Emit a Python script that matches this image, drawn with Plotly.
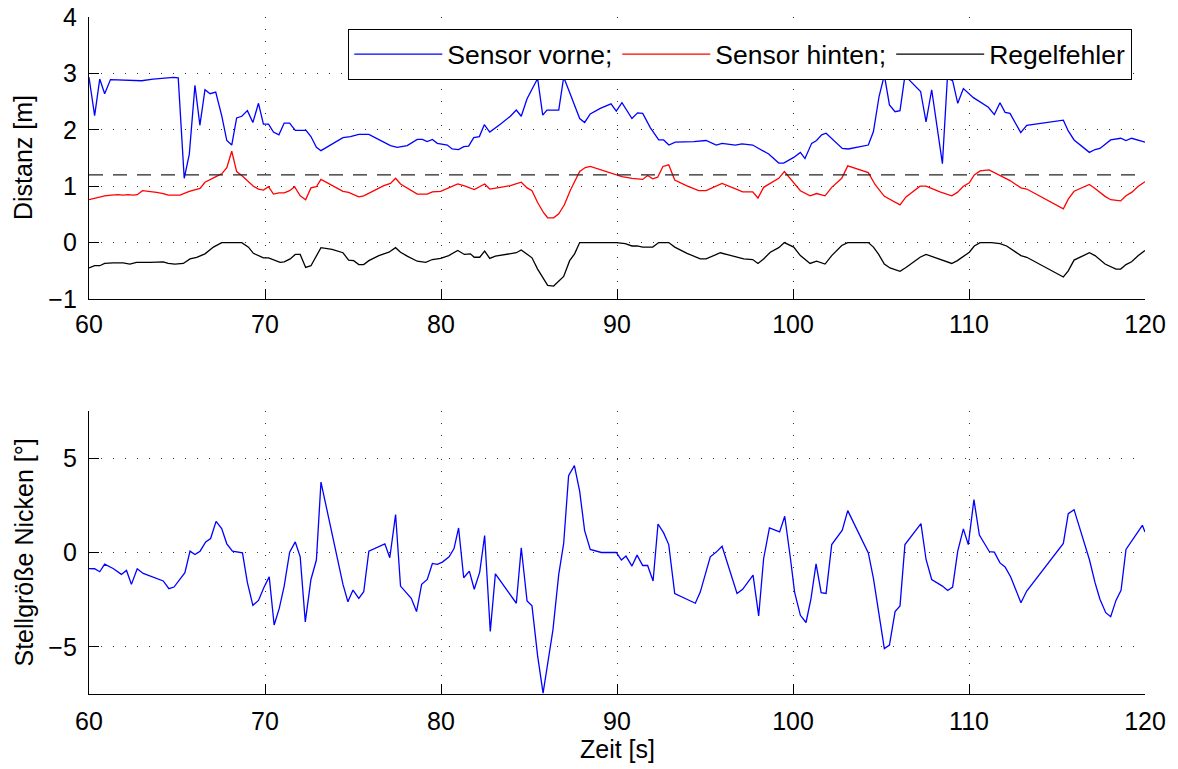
import plotly.graph_objects as go

# Distanzmessung: Sensor vorne
t_vorne = [60, 60.32, 60.61, 60.89, 61.22, 61.94, 62.5, 62.98, 63.65, 64.2, 64.8, 65.07, 65.41, 65.7, 66.02, 66.3,
           66.59, 66.88, 67.2, 67.54, 67.83, 68.11, 68.39, 68.68, 69.0, 69.31, 69.63, 69.91, 70.2, 70.48, 70.79,
           71.09, 71.4, 71.72, 72.0, 72.33, 72.61, 72.92, 73.18, 73.81, 74.43, 74.85, 75.33, 75.9, 76.56, 77.13,
           77.51, 78.08, 78.65, 78.94, 79.22, 79.51, 79.79, 80.08, 80.36, 80.63, 81.0, 81.29, 81.57, 81.86, 82.18,
           82.46, 82.77, 83.37, 83.94, 84.28, 84.56, 84.89, 85.49, 85.78, 86.02, 86.69, 86.97, 87.25, 87.59, 87.88,
           88.16, 88.48, 89.05, 89.66, 89.96, 90.28, 90.85, 91.17, 91.46, 91.89, 92.37, 92.65, 92.95, 93.31, 94.36,
           95.06, 95.64, 95.97, 96.72, 97.1, 97.71, 98.62, 99.19, 99.47, 100.04, 100.42, 100.68, 101.06, 101.34,
           101.63, 101.88, 102.29, 102.8, 103.14, 104.28, 104.57, 104.89, 105.19, 105.48, 105.8, 106.08, 106.36,
           107.25, 107.56, 107.88, 108.49, 108.77, 109.07, 109.36, 109.68, 110.25, 111.1, 111.44, 111.76, 112.05,
           112.33, 112.94, 113.28, 115.36, 115.64, 115.97, 116.84, 117.16, 117.44, 118.05, 118.62, 118.92, 119.24,
           120.0]
d_vorne = [2.93, 2.25, 2.90, 2.64, 2.89, 2.88, 2.88, 2.87, 2.90, 2.91, 2.93, 2.92, 1.14, 1.57, 2.79, 2.08,
           2.71, 2.64, 2.67, 2.25, 1.81, 1.73, 2.21, 2.24, 2.34, 2.13, 2.47, 2.10, 2.10, 1.96, 1.91,
           2.12, 2.12, 1.99, 1.99, 1.99, 1.88, 1.69, 1.63, 1.75, 1.86, 1.88, 1.92, 1.92, 1.81, 1.72,
           1.69, 1.72, 1.83, 1.83, 1.79, 1.83, 1.76, 1.75, 1.73, 1.66, 1.65, 1.70, 1.71, 1.86, 1.88,
           2.09, 1.96, 2.10, 2.24, 2.35, 2.24, 2.55, 2.91, 2.26, 2.35, 2.35, 2.93, 2.71, 2.45, 2.20,
           2.13, 2.28, 2.38, 2.46, 2.33, 2.48, 2.20, 2.30, 2.29, 2.04, 1.82, 1.82, 1.73, 1.78, 1.79,
           1.81, 1.73, 1.76, 1.73, 1.75, 1.73, 1.57, 1.41, 1.41, 1.51, 1.60, 1.49, 1.76, 1.81,
           1.91, 1.94, 1.82, 1.67, 1.66, 1.73, 1.97, 2.59, 2.97, 2.44, 2.32, 2.34, 2.96,
           2.68, 2.14, 2.71, 1.40, 2.91, 2.87, 2.47, 2.73, 2.57, 2.40, 2.27, 2.48, 2.31,
           2.29, 1.95, 2.08, 2.17, 1.98, 1.82, 1.60, 1.65, 1.67, 1.82, 1.85, 1.81, 1.85,
           1.78]

# Distanzmessung: Sensor hinten
t_hinten = [60, 60.32, 60.61, 60.89, 61.27, 61.65, 61.94, 62.22, 62.5, 62.74, 63.04, 63.46, 63.84, 64.22, 64.5,
            64.88, 65.17, 65.7, 66.02, 66.31, 66.59, 66.88, 67.16, 67.54, 67.83, 68.11, 68.39, 68.68, 69.0, 69.34,
            69.63, 69.91, 70.2, 70.48, 70.79, 71.09, 71.4, 71.68, 72.0, 72.31, 72.61, 72.92, 73.18, 73.81, 74.43,
            74.75, 75.33, 75.61, 76.18, 76.75, 77.13, 77.42, 77.7, 78.18, 78.65, 79.22, 79.51, 79.98, 80.44, 80.95,
            81.38, 81.89, 82.48, 82.77, 83.37, 83.94, 84.56, 84.89, 85.17, 85.49, 85.83, 86.06, 86.4, 86.69, 87.01,
            87.35, 87.88, 88.2, 88.48, 89.05, 89.62, 90.28, 90.85, 91.46, 91.74, 92.03, 92.31, 92.61, 92.94, 93.28,
            93.94, 94.64, 95.06, 95.59, 95.97, 96.53, 97.14, 97.71, 98.01, 98.33, 99.19, 99.51, 100.42, 100.97,
            101.34, 101.82, 102.2, 102.77, 103.11, 104.28, 104.66, 105.19, 106.08, 106.42, 107.22, 107.56, 108.35,
            109.02, 109.34, 109.68, 110.02, 110.3, 110.63, 111.14, 111.76, 112.33, 112.95, 113.28, 115.36, 115.64,
            115.97, 116.84, 117.16, 117.73, 118.05, 118.4, 118.62, 118.92, 119.24, 119.62, 120]
d_hinten = [0.76, 0.79, 0.81, 0.83, 0.84, 0.85, 0.84, 0.85, 0.84, 0.85, 0.92, 0.91, 0.89, 0.87, 0.84,
            0.84, 0.84, 0.91, 0.93, 0.96, 1.07, 1.11, 1.16, 1.22, 1.33, 1.62, 1.26, 1.19, 1.10, 1.00,
            0.95, 0.93, 0.99, 0.86, 0.88, 0.88, 0.92, 0.99, 0.83, 0.76, 0.97, 0.99, 1.12, 1.01, 0.91,
            0.89, 0.81, 0.83, 0.92, 1.01, 1.05, 1.14, 1.04, 0.95, 0.86, 0.86, 0.90, 0.91, 0.97, 1.04,
            1.00, 0.94, 1.04, 0.95, 0.98, 1.01, 1.07, 0.97, 0.92, 0.71, 0.53, 0.44, 0.44, 0.51, 0.67,
            0.93, 1.26, 1.33, 1.35, 1.29, 1.24, 1.17, 1.14, 1.12, 1.19, 1.13, 1.16, 1.35, 1.38, 1.11,
            1.01, 0.92, 0.92, 0.99, 1.05, 0.98, 0.90, 0.90, 0.79, 0.98, 1.14, 1.26, 0.92, 0.83,
            0.87, 0.83, 0.98, 1.14, 1.36, 1.24, 1.03, 0.82, 0.67, 0.81, 1.00, 1.00, 0.90,
            0.83, 0.89, 1.00, 1.06, 1.20, 1.27, 1.29, 1.19, 1.10, 0.97, 0.95, 0.60, 0.77,
            0.91, 1.03, 0.96, 0.82, 0.76, 0.74, 0.74, 0.83, 0.89, 1.00, 1.08]

# Regelfehler
t_fehler = [60, 60.32, 60.61, 60.89, 61.37, 61.94, 62.32, 62.7, 63.46, 64.22, 64.5, 64.88, 65.36, 65.74, 66.12,
            66.59, 67.07, 67.54, 68.68, 69.06, 69.34, 69.91, 70.2, 70.48, 70.86, 71.09, 71.43, 71.72, 72.0, 72.31,
            72.61, 73.18, 73.81, 74.43, 74.75, 75.04, 75.33, 75.61, 75.9, 76.47, 77.04, 77.42, 77.7, 78.08, 78.65,
            79.13, 79.51, 79.98, 80.44, 80.95, 81.33, 81.67, 81.89, 82.2, 82.48, 82.77, 83.09, 84.28, 84.56, 85.17,
            85.49, 86.06, 86.4, 86.97, 87.31, 87.59, 87.88, 89.96, 90.47, 90.85, 91.14, 91.46, 92.03, 92.37, 92.94,
            93.28, 93.98, 94.73, 95.06, 95.87, 96.53, 97.2, 97.71, 98.01, 98.33, 98.71, 99.19, 99.51, 100.04,
            100.42, 100.97, 101.34, 101.82, 102.2, 102.77, 103.11, 104.28, 104.57, 104.85, 105.19, 105.51, 106.08,
            106.42, 107.22, 107.56, 108.35, 109.02, 109.34, 109.68, 110.02, 110.3, 110.63, 111.29, 111.76, 112.14,
            112.95, 113.28, 115.36, 115.64, 115.97, 116.84, 117.16, 117.73, 118.05, 118.35, 118.62, 118.92, 119.24,
            119.62, 120]
d_fehler = [-0.45, -0.41, -0.41, -0.37, -0.36, -0.36, -0.38, -0.35, -0.35, -0.34, -0.37, -0.38, -0.37, -0.29, -0.26,
            -0.20, -0.08, 0, 0, -0.08, -0.19, -0.27, -0.27, -0.30, -0.35, -0.34, -0.29, -0.21, -0.21, -0.44,
            -0.41, -0.09, -0.12, -0.18, -0.31, -0.32, -0.39, -0.39, -0.32, -0.23, -0.17, -0.09, -0.17, -0.24, -0.33,
            -0.35, -0.30, -0.28, -0.23, -0.14, -0.21, -0.20, -0.26, -0.26, -0.15, -0.28, -0.24, -0.18, -0.13, -0.27,
            -0.47, -0.76, -0.77, -0.60, -0.32, -0.20, 0, 0, -0.02, -0.06, -0.06, -0.08, -0.08, 0, 0,
            -0.08, -0.19, -0.29, -0.29, -0.18, -0.24, -0.29, -0.30, -0.37, -0.29, -0.17, -0.09, 0, -0.08,
            -0.23, -0.37, -0.33, -0.38, -0.23, -0.05, 0, 0, -0.08, -0.20, -0.38, -0.45, -0.51,
            -0.44, -0.26, -0.21, -0.30, -0.37, -0.32, -0.25, -0.17, -0.06, 0, 0, -0.02, -0.06,
            -0.23, -0.26, -0.61, -0.50, -0.31, -0.18, -0.23, -0.38, -0.42, -0.47, -0.47, -0.39, -0.34,
            -0.23, -0.14]

# Sollabstand
t_soll = [60, 120]
d_soll = [1.2, 1.2]

# Stellgröße Nicken
t_nicken = [60, 60.32, 60.61, 60.89, 61.37, 61.84, 62.13, 62.41, 62.74, 63.08, 64.22, 64.54, 64.83, 65.17, 65.45,
            65.74, 66.02, 66.31, 66.63, 66.91, 67.22, 67.54, 67.83, 68.15, 68.72, 69.0, 69.31, 69.63, 69.95, 70.24,
            70.52, 70.81, 71.09, 71.4, 71.72, 72.0, 72.29, 72.61, 72.92, 73.18, 74.43, 74.71, 75.0, 75.33, 75.61,
            75.9, 76.81, 77.09, 77.42, 77.7, 78.31, 78.61, 78.9, 79.22, 79.51, 79.79, 80.08, 80.46, 80.74, 81.0,
            81.29, 81.61, 81.89, 82.2, 82.48, 82.8, 83.09, 84.28, 84.56, 84.89, 85.17, 85.49, 85.8, 86.36, 86.69,
            86.97, 87.25, 87.58, 87.88, 88.16, 88.48, 89.11, 89.96, 90.25, 90.51, 90.85, 91.14, 91.46, 91.74, 92.05,
            92.33, 92.65, 92.94, 93.28, 94.45, 94.73, 95.3, 95.64, 95.97, 96.82, 97.14, 97.73, 98.05, 98.33, 98.66,
            99.24, 99.53, 99.85, 100.09, 100.42, 100.74, 101.02, 101.31, 101.6, 101.88, 102.2, 102.8, 103.11,
            104.28, 104.57, 104.89, 105.19, 105.48, 105.8, 106.08, 106.36, 107.27, 107.56, 107.88, 108.49, 108.79,
            109.07, 109.36, 109.68, 109.96, 110.28, 110.59, 111.16, 111.44, 111.76, 112.05, 112.37, 112.95, 113.28,
            115.36, 115.64, 115.97, 116.84, 117.16, 117.44, 117.77, 118.05, 118.35, 118.64, 118.92, 119.85, 120]
w_nicken = [-0.85, -0.86, -1.02, -0.62, -0.85, -1.16, -0.95, -1.69, -0.86, -1.11, -1.51, -1.92, -1.83, -1.43, -1.07,
            0.07, -0.11, 0.07, 0.56, 0.74, 1.65, 1.27, 0.46, 0.07, -0.02, -1.60, -2.80, -2.54, -1.83, -1.29,
            -3.84, -2.96, -1.78, 0.02, 0.56, -0.23, -3.68, -1.43, -0.40, 3.73, -1.69, -2.61, -1.99, -2.43, -2.08,
            0.07, 0.46, -0.28, 2.01, -1.78, -2.43, -3.13, -1.69, -1.43, -0.58, -0.63, -0.51, -0.23, 0.21, 1.30,
            -1.34, -0.99, -1.95, -1.04, 0.90, -4.19, -1.13, -2.69, 0.25, -2.57, -2.83, -5.48, -7.45, -4.10, -1.16,
            0.48, 4.07, 4.61, 3.24, 1.16, 0.16, 0, 0, -0.40, -0.19, -0.72, -0.14, -0.69, -0.69, -1.51,
            1.51, 1.04, 0.42, -2.18, -2.69, -2.10, -0.23, 0.02, 0.33, -2.17, -1.95, -1.20, -3.36, -0.33, 1.30,
            1.09, 1.92, -0.28, -2.10, -3.33, -3.71, -2.46, -0.60, -2.13, -2.17, 0.42, 1.18, 2.22,
            -0.02, -1.37, -3.36, -5.09, -4.91, -3.13, -2.83, 0.42, 1.53, -0.37, -1.43, -1.78, -2.01,
            -1.83, 0.07, 1.25, 0.42, 2.80, 0.92, 0.04, 0.02, -0.55, -0.77, -1.30, -2.66, -2.04,
            0.48, 2.06, 2.27, -0.37, -1.60, -2.48, -3.19, -3.40, -2.54, -2.01, 0.16, 1.44, 1.09]

assert len(t_vorne) == len(d_vorne)
assert len(t_hinten) == len(d_hinten)
assert len(t_fehler) == len(d_fehler)
assert len(t_nicken) == len(w_nicken)

x_ticks = [60, 70, 80, 90, 100, 110, 120]
y_ticks_top = [-1, 0, 1, 2, 3, 4]
y_ticks_bottom = [-5, 0, 5]

FONT = "Liberation Sans, Arial, sans-serif"
FS = 25
LW = 1.3

fig = go.Figure()
fig.add_trace(go.Scatter(x=t_vorne, y=d_vorne, mode="lines", name="Sensor vorne;",
                         line=dict(color="#0000ff", width=LW), xaxis="x", yaxis="y"))
fig.add_trace(go.Scatter(x=t_hinten, y=d_hinten, mode="lines", name="Sensor hinten;",
                         line=dict(color="#ff0000", width=LW), xaxis="x", yaxis="y"))
fig.add_trace(go.Scatter(x=t_fehler, y=d_fehler, mode="lines", name="Regelfehler",
                         line=dict(color="#000000", width=LW), xaxis="x", yaxis="y"))
fig.add_trace(go.Scatter(x=t_soll, y=d_soll, mode="lines", showlegend=False,
                         line=dict(color="#222222", width=LW, dash="14px,10px"), xaxis="x", yaxis="y"))
fig.add_trace(go.Scatter(x=t_nicken, y=w_nicken, mode="lines", showlegend=False,
                         line=dict(color="#0000ff", width=LW), xaxis="x2", yaxis="y2"))

axis_common = dict(
    showline=True, linecolor="black", linewidth=LW, mirror=False, automargin=False,
    ticks="inside", ticklen=10, tickwidth=LW, tickcolor="black",
    showgrid=True, gridcolor="#333333", gridwidth=1, griddash="1px,11px",
    zeroline=False, tickfont=dict(family=FONT, size=FS, color="black"),
)

# pixel layout: plot area from x=89..1145, top panel 17..299, bottom panel 411..694
ML, MR, MT, MB = 89, 33, 17, 75
H = 769
ph = H - MT - MB
top_dom = [(H - MB - 299) / ph, 1.0]
bot_dom = [0.0, (H - MB - 411) / ph]

fig.update_layout(
    width=1178, height=769,
    margin=dict(l=ML, r=MR, t=MT, b=MB, autoexpand=False),
    paper_bgcolor="white", plot_bgcolor="white",
    font=dict(family=FONT, size=FS, color="black"),
    xaxis=dict(axis_common, range=[60, 120], tickvals=x_ticks, domain=[0, 1], anchor="y",
               ticklabelstandoff=3),
    yaxis=dict(axis_common, range=[-1, 4], tickvals=y_ticks_top, domain=top_dom, anchor="x",
               ticklabelstandoff=6),
    xaxis2=dict(axis_common, range=[60, 120], tickvals=x_ticks, domain=[0, 1], anchor="y2",
                ticklabelstandoff=5),
    yaxis2=dict(axis_common, range=[-7.5, 7.5], tickvals=y_ticks_bottom, domain=bot_dom, anchor="x2",
                ticklabelstandoff=6),
    showlegend=True,
    legend=dict(
        orientation="h", x=(1132 - ML) / (1178 - ML - MR), xanchor="right",
        y=(H - MB - 29) / ph, yanchor="top",
        bgcolor="white", bordercolor="black", borderwidth=LW,
        font=dict(family=FONT, size=26.5, color="black"),
        itemwidth=88,
    ),
    annotations=[
        dict(text="Distanz [m]", xref="paper", yref="paper", x=0, y=sum(top_dom) / 2,
             xshift=-66, textangle=-90, showarrow=False, xanchor="center", yanchor="middle",
             font=dict(family=FONT, size=FS, color="black")),
        dict(text="Stellgröße Nicken [°]", xref="paper", yref="paper", x=0, y=sum(bot_dom) / 2,
             xshift=-66, textangle=-90, showarrow=False, xanchor="center", yanchor="middle",
             font=dict(family=FONT, size=FS, color="black")),
        dict(text="Zeit [s]", xref="paper", yref="paper", x=0.5, y=0, yshift=-(749 - 694),
             showarrow=False, xanchor="center", yanchor="middle",
             font=dict(family=FONT, size=FS, color="black")),
    ],
)

fig.write_html("out.html")
